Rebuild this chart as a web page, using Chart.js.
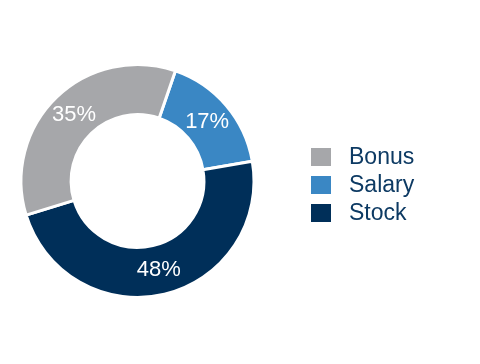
<!DOCTYPE html>
<html>
<head>
<meta charset="utf-8">
<script src="https://cdn.jsdelivr.net/npm/chart.js@4"></script>
<style>
  html, body { margin: 0; padding: 0; background: #fff; }
  #wrap { width: 480px; height: 364px; }
</style>
</head>
<body>
<div id="wrap"><canvas id="payChart" width="480" height="364"></canvas></div>
<script>
const labels = ["Salary", "Stock", "Bonus"];
const shares = [17, 48, 35];
const colors = ["#3a87c4", "#002f59", "#a6a7aa"];
// legend order as in the picture
const legendOrder = ["Bonus", "Salary", "Stock"];

// percent labels in the middle of each slice
const sliceLabels = {
  id: "sliceLabels",
  afterDatasetsDraw(chart) {
    const c = chart.ctx;
    const meta = chart.getDatasetMeta(0);
    c.save();
    c.fillStyle = "#ffffff";
    c.font = "22px 'Liberation Sans', Arial, sans-serif";
    c.textAlign = "center";
    c.textBaseline = "middle";
    meta.data.forEach(function (arc, i) {
      const p = arc.tooltipPosition();
      c.fillText(shares[i] + "%", p.x, p.y);
    });
    c.restore();
  },
};

// legend drawn on the right
const sideLegend = {
  id: "sideLegend",
  afterDraw(chart) {
    const c = chart.ctx;
    c.save();
    c.font = "23px 'Liberation Sans', Arial, sans-serif";
    c.textBaseline = "middle";
    legendOrder.forEach(function (name, k) {
      const i = chart.data.labels.indexOf(name);
      const y = 157 + k * 28;
      c.fillStyle = chart.data.datasets[0].backgroundColor[i];
      c.fillRect(311, y - 9, 20, 18);
      c.fillStyle = "#0d3a63";
      c.fillText(name, 349, y + 1);
    });
    c.restore();
  },
};

const ctx = document.getElementById("payChart");
const payChart = new Chart(ctx, {
  type: "doughnut",
  data: {
    labels: labels,
    datasets: [
      {
        data: shares,
        backgroundColor: colors,
        borderColor: "#ffffff",
        borderWidth: 3,
      },
    ],
  },
  options: {
    responsive: false,
    animation: false,
    rotation: 19,
    cutout: "57%",
    layout: {
      padding: { left: 19, right: 224, top: 63, bottom: 65 },
    },
    plugins: {
      legend: { display: false },
      tooltip: { enabled: false },
    },
  },
  plugins: [sliceLabels, sideLegend],
});
</script>
</body>
</html>
